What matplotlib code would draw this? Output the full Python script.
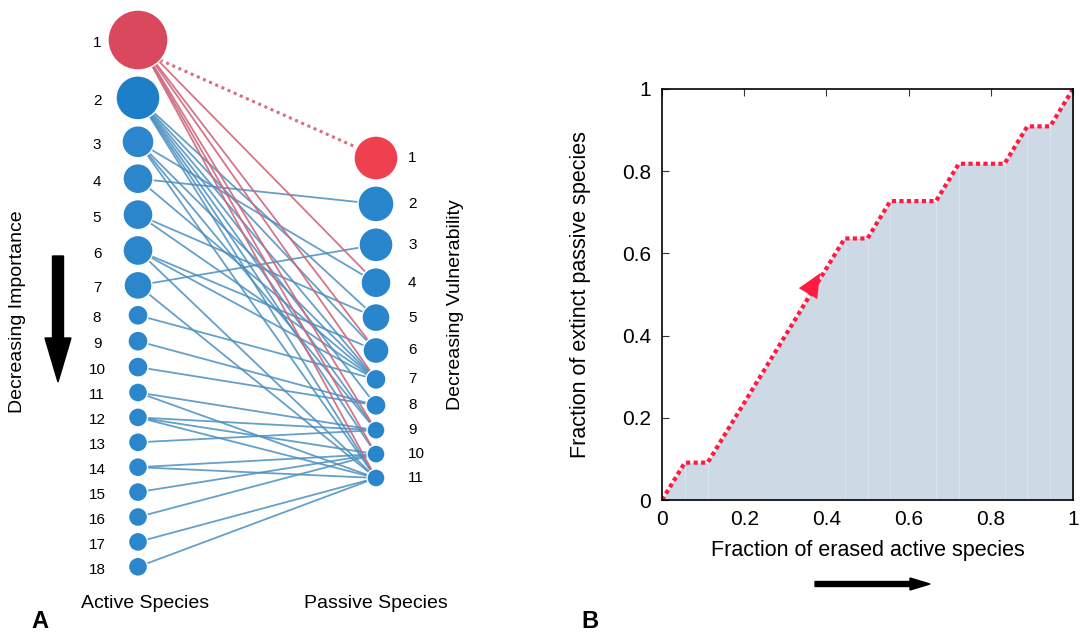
import matplotlib
matplotlib.use('Agg')
from matplotlib import pyplot as plt
from matplotlib.patches import Circle, FancyArrow
import numpy as np

plt.rcParams['font.family'] = ['Liberation Sans', 'DejaVu Sans']

# Node radii (pixels) for active and passive species, ranked
active_r = [30, 22, 16, 15, 15, 15, 14, 10, 10, 10, 9.5, 9.5, 9.5, 9.5, 9.5, 9.5, 9.5, 9.5]
passive_r = [22, 18, 17, 15, 14, 13, 10, 10, 9, 9, 9]

# Links (active rank, passive rank)
red_links = [(1, 4), (1, 6), (1, 7), (1, 9), (1, 10), (1, 11)]
dotted_link = (1, 1)
blue_links = [(2, 5), (2, 6), (2, 7), (2, 8), (2, 9), (2, 10), (2, 11),
              (3, 4), (3, 7), (3, 9), (3, 11),
              (4, 2), (4, 7),
              (5, 5), (5, 7),
              (6, 6), (6, 7), (6, 11),
              (7, 3), (7, 11),
              (8, 7), (9, 8), (10, 8),
              (11, 9), (11, 11),
              (12, 9), (12, 10), (12, 11),
              (13, 9), (14, 10), (14, 11),
              (15, 10), (16, 10), (17, 11), (18, 11)]

# Extinction curve
x_erased = [0, 1/18, 2/18, 8/18, 9/18, 10/18, 12/18, 13/18, 15/18, 16/18, 17/18, 1]
y_extinct = [0, 1/11, 1/11, 7/11, 7/11, 8/11, 8/11, 9/11, 9/11, 10/11, 10/11, 1]
ticks = [0, 0.2, 0.4, 0.6, 0.8, 1]
tick_labels = ['0', '0.2', '0.4', '0.6', '0.8', '1']

W, H = 1081, 635
fig = plt.figure(figsize=(W / 100, H / 100), dpi=100)

# ---------- panel A: bipartite network, drawn in pixel units ----------
axA = fig.add_axes([0, 0, 1, 1])
axA.set_xlim(0, W)
axA.set_ylim(H, 0)
axA.axis('off')


def stack(radii, top, gap):
    ys = []
    y = top
    for i, r in enumerate(radii):
        if i > 0:
            y += radii[i - 1] + gap + r
        ys.append(y)
    return ys


ya = stack(active_r, 40, 5.9)
yp = stack(passive_r, 158, 5.9)
xa, xp = 138, 376

for a, p in blue_links:
    axA.plot([xa, xp], [ya[a - 1], yp[p - 1]], color='#4a8fc0', lw=1.3, alpha=0.85, zorder=1)
for a, p in red_links:
    axA.plot([xa, xp], [ya[a - 1], yp[p - 1]], color='#d0667c', lw=1.3, alpha=0.9, zorder=2)
a, p = dotted_link
axA.plot([xa + 22, xp - 18], [ya[a - 1] + 20, yp[p - 1] - 10], color='#d9707f', lw=2.2,
         linestyle=(0, (1, 1.2)), zorder=2)

for i, r in enumerate(active_r):
    col = '#d9485c' if i == 0 else ('#1e7fc9' if i == 1 else '#2b86cc')
    axA.add_patch(Circle((xa, ya[i]), r, facecolor=col, edgecolor='white', lw=1, zorder=3))
    axA.text(97, ya[i] + 3, str(i + 1), ha='center', va='center', fontsize=11)
for i, r in enumerate(passive_r):
    col = '#ef404f' if i == 0 else '#2a86cc'
    axA.add_patch(Circle((xp, yp[i]), r, facecolor=col, edgecolor='white', lw=1, zorder=3))
    axA.text(408, yp[i], str(i + 1), ha='left', va='center', fontsize=11)

axA.text(18, 312, 'Decreasing Importance', rotation=90, ha='center', va='center', fontsize=14)
axA.text(455, 305, 'Decreasing Vulnerability', rotation=90, ha='center', va='center', fontsize=14)
axA.add_patch(FancyArrow(58, 256, 0, 126, width=11, head_width=26, head_length=44,
                         length_includes_head=True, color='black'))
axA.text(145, 603, 'Active Species', ha='center', va='center', fontsize=14)
axA.text(376, 603, 'Passive Species', ha='center', va='center', fontsize=14)
axA.text(40, 622, 'A', ha='center', va='center', fontsize=17, fontweight='bold')
axA.text(590, 622, 'B', ha='center', va='center', fontsize=17, fontweight='bold')
axA.add_patch(FancyArrow(815, 584, 115, 0, width=5, head_width=12, head_length=20,
                         length_includes_head=True, color='black'))

# ---------- panel B: extinction curve ----------
axB = fig.add_axes([662 / W, (H - 500) / H, 411 / W, 411 / H])
axB.fill_between(x_erased, y_extinct, 0, color='#cddae6', lw=0)
for xv in x_erased[1:-1]:
    axB.axvline(xv, color='white', lw=0.6, alpha=0.35)
axB.plot(x_erased, y_extinct, color='#ff1a40', lw=3, linestyle=(0, (1, 0.8)))
axB.annotate('', xy=(0.385, 0.552), xytext=(0.33, 0.46),
             arrowprops=dict(arrowstyle='-|>,head_length=0.85,head_width=0.38',
                             color='#ff1a40', lw=0.1, shrinkA=0, shrinkB=0,
                             mutation_scale=20))
axB.set_xlim(0, 1)
axB.set_ylim(0, 1)
axB.set_xticks(ticks)
axB.set_xticklabels(tick_labels)
axB.set_yticks(ticks)
axB.set_yticklabels(tick_labels)
axB.tick_params(axis='x', bottom=False, top=True, labelbottom=True, direction='in',
                length=5, color='#333333', labelsize=15, pad=7)
axB.tick_params(axis='y', left=True, right=False, direction='in', length=5,
                color='#333333', labelsize=15, pad=8)
for s in axB.spines.values():
    s.set_linewidth(1.2)
axB.set_xlabel('Fraction of erased active species', fontsize=15.5, labelpad=8)
axB.set_ylabel('Fraction of extinct passive species', fontsize=15.5, labelpad=22)

fig.savefig('out.png', dpi=100)
